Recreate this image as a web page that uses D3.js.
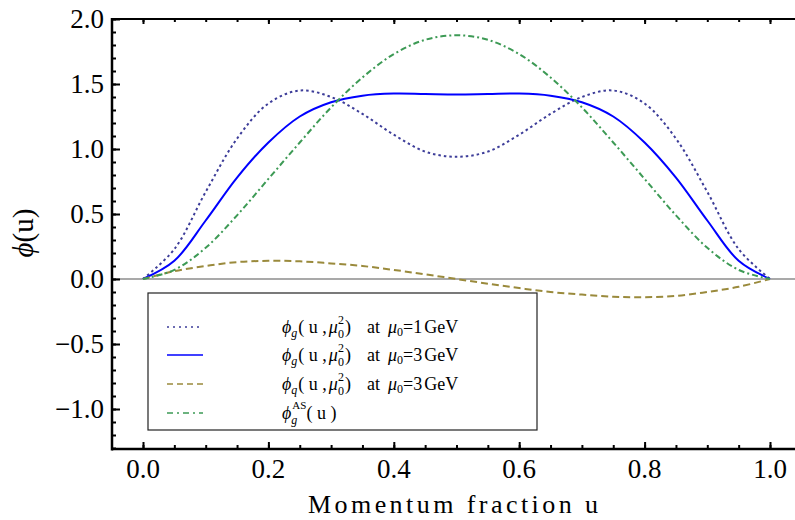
<!doctype html>
<html>
  <head>
    <meta charset="utf-8">
    <title>Gluon and quark distribution amplitudes</title>
    <script src="https://cdnjs.cloudflare.com/ajax/libs/d3/7.8.5/d3.min.js"></script>
    <style>
      body { margin: 0; background: #fff; }
      svg { font-family: "Liberation Serif", "DejaVu Serif", serif; }
    </style>
  </head>
  <body>
    <div id="chart"></div>
    <script>

      // momentum fraction grid and values
      const uValues = [0, 0.05, 0.1, 0.15, 0.2, 0.25, 0.3, 0.35, 0.4, 0.45, 0.5,
                       0.55, 0.6, 0.65, 0.7, 0.75, 0.8, 0.85, 0.9, 0.95, 1];

      // phi_g at mu0 = 1 GeV (dotted)
      const phiG1 = [0, 0.23, 0.67, 1.08, 1.35, 1.45, 1.40, 1.27, 1.11, 0.98, 0.94,
                     0.98, 1.11, 1.27, 1.40, 1.45, 1.35, 1.08, 0.67, 0.23, 0];
      // phi_g at mu0 = 3 GeV (solid)
      const phiG3 = [0, 0.14, 0.45, 0.78, 1.05, 1.25, 1.36, 1.41, 1.426, 1.423, 1.42,
                     1.423, 1.426, 1.41, 1.36, 1.25, 1.05, 0.78, 0.45, 0.14, 0];
      // phi_q at mu0 = 3 GeV (dashed)
      const phiQ3 = [0, 0.06, 0.10, 0.13, 0.14, 0.136, 0.12, 0.10, 0.07, 0.036, 0,
                     -0.036, -0.07, -0.10, -0.12, -0.136, -0.14, -0.13, -0.10, -0.06, 0];
      // asymptotic phi_g (dash-dot)
      const phiAS = [0, 0.07, 0.24, 0.49, 0.77, 1.05, 1.32, 1.55, 1.73, 1.84, 1.875,
                     1.84, 1.73, 1.55, 1.32, 1.05, 0.77, 0.49, 0.24, 0.07, 0];

      const xTicks = [0, 0.2, 0.4, 0.6, 0.8, 1.0];
      const yTicks = [-1.0, -0.5, 0, 0.5, 1.0, 1.5, 2.0];

      const series = [
        { values: phiG1, color: '#3d3d99', dash: '2.5,3', legendDash: '2,4' },
        { values: phiG3, color: '#0000ff', dash: null, legendDash: null },
        { values: phiQ3, color: '#9a8a3c', dash: '7,4', legendDash: '6,4' },
        { values: phiAS, color: '#3d9a55', dash: '6,3,2,3', legendDash: '6,4,2,4' }
      ];

      const W = 795, H = 520;
      const frameL = 112, frameT = 19, frameB = 449, frameR = 795;

      const x = d3.scaleLinear().domain([0, 1]).range([143, 770]);
      const y = d3.scaleLinear().domain([0, 2]).range([279, 19]);
      const fmt = d3.format('.1f');

      const svg = d3.select('#chart').append('svg')
        .attr('width', W).attr('height', H);

      // zero line
      svg.append('line')
        .attr('x1', frameL).attr('x2', frameR)
        .attr('y1', y(0)).attr('y2', y(0))
        .attr('stroke', '#555').attr('stroke-width', 1.2);

      // curves
      const line = d3.line()
        .x((d, i) => x(uValues[i]))
        .y(d => y(d))
        .curve(d3.curveCatmullRom);

      svg.selectAll('path.curve')
        .data(series)
        .join('path')
        .attr('class', 'curve')
        .attr('d', d => line(d.values))
        .attr('fill', 'none')
        .attr('stroke', d => d.color)
        .attr('stroke-width', 2)
        .attr('stroke-dasharray', d => d.dash);

      // tick marks from d3 axes (inward), labels drawn separately below
      const yMinor = d3.range(-13, 21).map(v => v / 10);
      const xMinor = d3.range(0, 21).map(v => v * 0.05);

      const tickAxis = (axis, values, size, tx, ty) => {
        svg.append('g').attr('transform', `translate(${tx},${ty})`)
          .call(axis.tickValues(values).tickSizeInner(size).tickSizeOuter(0).tickFormat(''));
      };
      tickAxis(d3.axisLeft(y), yMinor, -4, frameL, 0);
      tickAxis(d3.axisLeft(y), yTicks, -8, frameL, 0);
      tickAxis(d3.axisBottom(x), xMinor, -4, 0, frameB);
      tickAxis(d3.axisBottom(x), xTicks, -7, 0, frameB);
      tickAxis(d3.axisTop(x), xMinor, -3, 0, frameT);
      tickAxis(d3.axisTop(x), xTicks, -5, 0, frameT);

      svg.selectAll('.domain').remove();
      svg.selectAll('.tick text').remove();
      svg.selectAll('.tick line').attr('stroke', '#000').attr('stroke-width', 2);

      // tick labels
      svg.selectAll('text.ylab')
        .data(yTicks)
        .join('text')
        .attr('class', 'ylab')
        .attr('x', frameL - 8)
        .attr('y', d => y(d) + 9)
        .attr('text-anchor', 'end')
        .style('font-size', '27px')
        .text(d => fmt(d));

      svg.selectAll('text.xlab')
        .data(xTicks)
        .join('text')
        .attr('class', 'xlab')
        .attr('x', d => x(d))
        .attr('y', 478)
        .attr('text-anchor', 'middle')
        .style('font-size', '27px')
        .text(d => fmt(d));

      // frame
      svg.append('line').attr('x1', frameL).attr('x2', frameL).attr('y1', frameT - 1).attr('y2', frameB + 1.5)
        .attr('stroke', '#000').attr('stroke-width', 2.5);
      svg.append('line').attr('x1', frameL).attr('x2', frameR).attr('y1', frameB).attr('y2', frameB)
        .attr('stroke', '#000').attr('stroke-width', 2.5);
      svg.append('line').attr('x1', frameL).attr('x2', frameR).attr('y1', frameT).attr('y2', frameT)
        .attr('stroke', '#000').attr('stroke-width', 2);

      // axis titles
      svg.append('text')
        .attr('x', 308).attr('y', 513)
        .attr('textLength', 290).attr('lengthAdjust', 'spacing')
        .style('font-size', '26px')
        .text('Momentum fraction u');

      svg.append('text')
        .attr('transform', 'translate(33,233) rotate(-90)')
        .attr('text-anchor', 'middle')
        .style('font-size', '29px')
        .html('<tspan font-style="italic">ϕ</tspan>(u)');

      // legend
      const legend = svg.append('g');
      legend.append('rect')
        .attr('x', 148).attr('y', 293).attr('width', 389).attr('height', 137)
        .attr('fill', '#fff').attr('stroke', '#222').attr('stroke-width', 1.2);

      const rowY = [327, 355, 384, 413];
      const labels = [
        ['g', '1'], ['g', '3'], ['q', '3'], null
      ];

      legend.selectAll('line.sample')
        .data(series)
        .join('line')
        .attr('class', 'sample')
        .attr('x1', 167).attr('x2', 203)
        .attr('y1', (d, i) => rowY[i]).attr('y2', (d, i) => rowY[i])
        .attr('stroke', d => d.color)
        .attr('stroke-width', 1.3)
        .attr('stroke-dasharray', d => d.legendDash);

      labels.forEach((lab, i) => {
        const t = legend.append('text')
          .attr('x', 282).attr('y', rowY[i] + 6)
          .style('font-size', '18px');
        if (lab) {
          t.html(
            `<tspan font-style="italic">ϕ</tspan>` +
            `<tspan font-style="italic" font-size="12" dy="4">${lab[0]}</tspan>` +
            `<tspan dy="-4" dx="1">( u ,</tspan>` +
            `<tspan font-style="italic" dx="2">μ</tspan>` +
            `<tspan font-size="12" dy="5">0</tspan>` +
            `<tspan font-size="12" dx="-6" dy="-14">2</tspan>` +
            `<tspan dy="9" dx="1">)</tspan>` +
            `<tspan x="367">at</tspan>` +
            `<tspan font-style="italic" x="388">μ</tspan>` +
            `<tspan font-size="12" dy="3">0</tspan>` +
            `<tspan dy="-3">=${lab[1]}</tspan>` +
            `<tspan dx="2">GeV</tspan>`
          );
        } else {
          t.html(
            `<tspan font-style="italic">ϕ</tspan>` +
            `<tspan font-style="italic" font-size="12" dy="5">g</tspan>` +
            `<tspan font-size="11" dx="-5" dy="-15">AS</tspan>` +
            `<tspan dy="10">( u )</tspan>`
          );
        }
      });

    </script>
  </body>
</html>
